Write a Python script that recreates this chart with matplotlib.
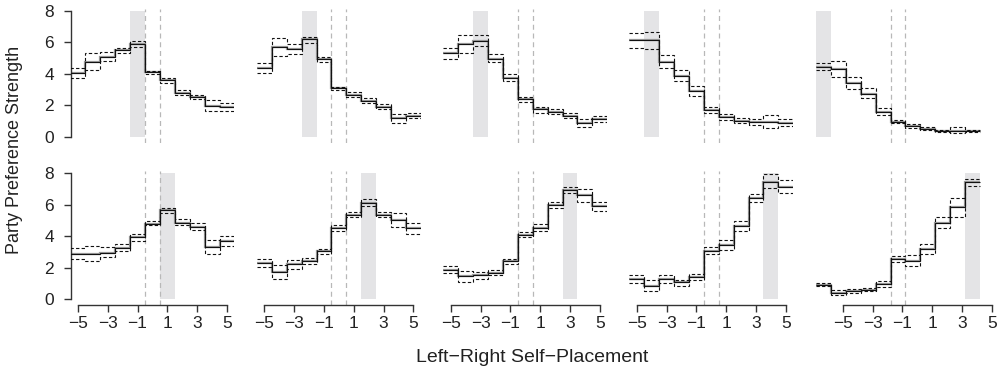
import matplotlib
matplotlib.use("Agg")  # headless backend
import matplotlib.pyplot as plt
import numpy as np

plt.rcParams["font.family"] = ["Liberation Sans", "DejaVu Sans"]

# self-placement bins (-5 .. 5), one step per bin
placements = np.arange(-5, 6)
tick_values = [-5, -3, -1, 1, 3, 5]
tick_labels = ["\u22125", "\u22123", "\u22121", "1", "3", "5"]

# top row: preference for left-leaning parties
top_mean = [
    [4.03, 4.78, 5.10, 5.52, 5.90, 4.10, 3.61, 2.76, 2.50, 1.97, 1.91],
    [4.35, 5.73, 5.56, 6.20, 4.95, 3.08, 2.65, 2.29, 1.91, 1.17, 1.32],
    [5.31, 5.88, 6.11, 4.95, 3.76, 2.38, 1.74, 1.59, 1.34, 0.85, 1.13],
    [6.14, 6.14, 4.78, 3.89, 2.91, 1.70, 1.27, 1.02, 0.93, 0.93, 0.85],
    [4.46, 4.33, 3.44, 2.72, 1.59, 0.96, 0.68, 0.51, 0.36, 0.38, 0.38],
]
top_upper = [
    [4.35, 5.31, 5.39, 5.67, 6.07, 4.20, 3.72, 2.97, 2.65, 2.34, 2.12],
    [4.67, 6.30, 5.88, 6.37, 5.10, 3.18, 2.87, 2.44, 2.06, 1.44, 1.53],
    [5.63, 6.48, 6.48, 5.24, 3.99, 2.51, 1.87, 1.74, 1.49, 1.10, 1.32],
    [6.58, 6.69, 5.20, 4.22, 3.23, 1.87, 1.44, 1.17, 1.10, 1.36, 1.10],
    [4.67, 4.84, 3.82, 3.08, 1.80, 1.06, 0.79, 0.59, 0.42, 0.59, 0.42],
]
top_lower = [
    [3.76, 4.25, 4.82, 5.31, 5.69, 3.99, 3.40, 2.65, 2.38, 1.63, 1.63],
    [4.08, 5.14, 5.24, 5.94, 4.76, 2.97, 2.55, 2.12, 1.74, 0.89, 1.17],
    [4.93, 5.31, 5.77, 4.76, 3.57, 2.23, 1.53, 1.44, 1.17, 0.59, 0.93],
    [5.67, 5.56, 4.35, 3.57, 2.59, 1.53, 1.06, 0.85, 0.76, 0.55, 0.68],
    [4.25, 3.78, 3.01, 2.48, 1.38, 0.89, 0.53, 0.42, 0.28, 0.25, 0.32],
]
top_party = [-1, -2, -3, -4, -5]

# bottom row: preference for right-leaning parties
bottom_mean = [
    [2.88, 2.86, 2.92, 3.24, 3.92, 4.80, 5.67, 4.83, 4.61, 3.30, 3.70],
    [2.29, 1.71, 2.22, 2.39, 3.03, 4.51, 5.35, 6.14, 5.35, 5.04, 4.51],
    [1.86, 1.44, 1.50, 1.65, 2.39, 4.08, 4.51, 5.99, 6.94, 6.62, 5.93],
    [1.27, 0.85, 1.27, 1.06, 1.42, 3.07, 3.45, 4.66, 6.46, 7.47, 7.15],
    [0.87, 0.38, 0.49, 0.59, 0.97, 2.54, 2.43, 3.17, 4.87, 5.84, 7.43],
]
bottom_upper = [
    [3.22, 3.39, 3.28, 3.49, 4.13, 4.97, 5.82, 5.08, 4.83, 3.77, 4.04],
    [2.54, 2.14, 2.50, 2.60, 3.20, 4.68, 5.52, 6.35, 5.52, 5.50, 4.83],
    [2.07, 1.80, 1.69, 1.82, 2.56, 4.25, 4.78, 6.20, 7.11, 7.00, 6.20],
    [1.50, 1.23, 1.50, 1.23, 1.61, 3.34, 3.77, 4.97, 6.67, 7.94, 7.58],
    [1.02, 0.55, 0.63, 0.70, 1.16, 2.71, 2.81, 3.49, 5.21, 6.46, 7.64],
]
bottom_lower = [
    [2.56, 2.39, 2.65, 3.03, 3.70, 4.72, 5.46, 4.72, 4.40, 2.86, 3.39],
    [2.01, 1.27, 1.93, 2.22, 2.86, 4.34, 5.19, 5.95, 5.19, 4.61, 4.13],
    [1.65, 1.08, 1.27, 1.50, 2.22, 3.92, 4.30, 5.82, 6.73, 6.20, 5.61],
    [1.02, 0.53, 1.02, 0.85, 1.23, 2.86, 3.13, 4.34, 6.20, 7.05, 6.73],
    [0.80, 0.23, 0.38, 0.49, 0.76, 2.35, 2.12, 2.86, 4.55, 5.25, 7.20],
]
bottom_party = [1, 2, 3, 4, 5]

centre_cuts = [-0.5, 0.5]

W, H = 1001, 378
edges = np.append(placements - 0.5, placements[-1] + 0.5)
ylim = (-0.4, 8.13)
unit_px = 14.9
col_left = [70.5, 256.9, 443.3, 629.3, 816.0]
row_top = [9.0, 171.3]
row_h = 134.0
last_shift = 1.3  # axis of the last column sits off the data in the original

fig = plt.figure(figsize=(W / 100, H / 100), dpi=100)

rows = [
    (top_mean, top_upper, top_lower, top_party),
    (bottom_mean, bottom_upper, bottom_lower, bottom_party),
]
for r, (means, uppers, lowers, parties) in enumerate(rows):
    for c in range(5):
        xmax = 5.5 + (last_shift + 0.2 if c == 4 else 0)
        width_px = (xmax + 5.5) * unit_px
        ax = fig.add_axes([col_left[c] / W, 1 - (row_top[r] + row_h) / H,
                           width_px / W, row_h / H])
        ax.set_xlim(-5.5, xmax)
        ax.set_ylim(*ylim)
        ax.patch.set_alpha(0)

        p = parties[c]
        ax.axvspan(p - 0.5, p + 0.5, ymin=(0 - ylim[0]) / (ylim[1] - ylim[0]),
                   ymax=(8 - ylim[0]) / (ylim[1] - ylim[0]),
                   color="#e4e4e6", lw=0, zorder=0)
        for xc in centre_cuts:
            ax.axvline(xc, color="#b8b8b8", lw=0.9, ls=(0, (4, 3)), zorder=1)

        ax.stairs(means[c], edges, baseline=None, color="#9a9a9a", lw=1.6, zorder=2)
        ax.stairs(means[c], edges, baseline=None, color="#111111", lw=0.8, zorder=3)
        ax.stairs(uppers[c], edges, baseline=None, color="#111111", lw=0.8,
                  ls=(0, (3, 2)), zorder=3)
        ax.stairs(lowers[c], edges, baseline=None, color="#111111", lw=0.8,
                  ls=(0, (3, 2)), zorder=3)

        for s in ["top", "right"]:
            ax.spines[s].set_visible(False)

        if c == 0:
            ax.spines["left"].set_bounds(0, 8)
            ax.set_yticks([0, 2, 4, 6, 8])
        else:
            ax.spines["left"].set_visible(False)
            ax.set_yticks([])

        if r == 1:
            shift = last_shift if c == 4 else 0.0
            ticks = np.array(tick_values) + shift
            ax.spines["bottom"].set_bounds(ticks[0], ticks[-1])
            ax.set_xticks(ticks)
            ax.set_xticklabels(tick_labels)
        else:
            ax.spines["bottom"].set_visible(False)
            ax.set_xticks([])

        for s in ["left", "bottom"]:
            ax.spines[s].set_color("#333333")
            ax.spines[s].set_linewidth(1.0)
        ax.tick_params(direction="out", length=5, width=1.0, color="#333333",
                       labelsize=12.5, labelcolor="#222222")
        ax.tick_params(axis="y", pad=7)
        ax.tick_params(axis="x", pad=3)

fig.text(15 / W, 1 - 150 / H, "Party Preference Strength", rotation=90,
         ha="center", va="center", fontsize=13, color="#222222")
fig.text(532 / W, 1 - 358 / H, "Left\u2212Right Self\u2212Placement",
         ha="center", va="center", fontsize=14, color="#222222")

fig.savefig("out.png", dpi=100)
